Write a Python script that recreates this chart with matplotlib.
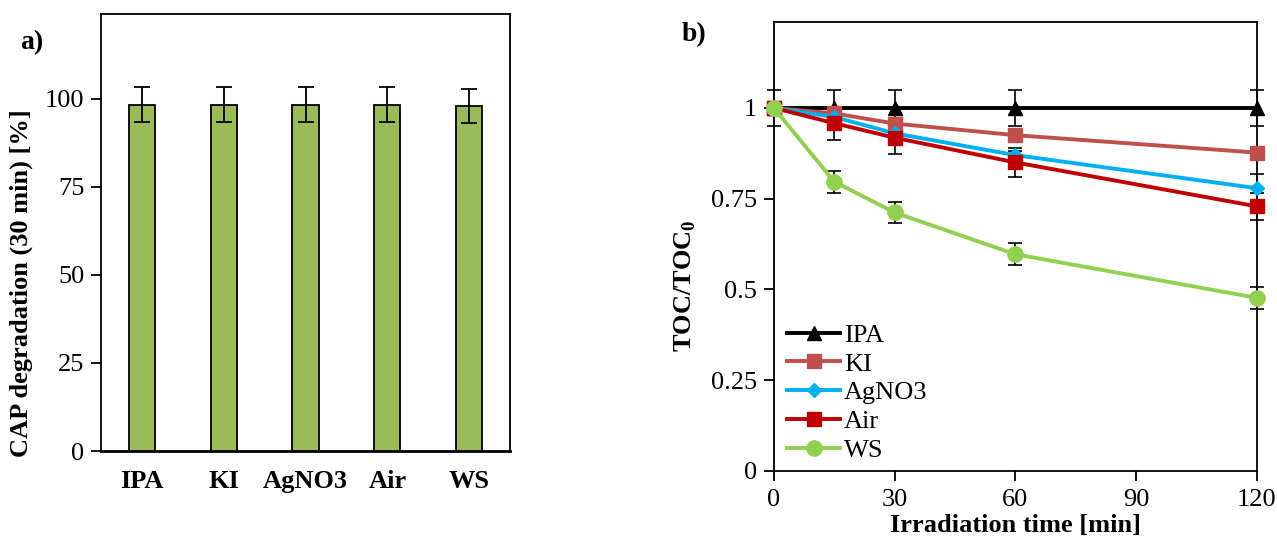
import matplotlib
matplotlib.use("Agg")
import matplotlib.pyplot as plt

plt.rcParams['font.family'] = ['Liberation Serif', 'DejaVu Serif']
plt.rcParams['mathtext.fontset'] = 'custom'
plt.rcParams['mathtext.rm'] = 'Liberation Serif'
plt.rcParams['mathtext.bf'] = 'Liberation Serif:bold'

# panel a data
scavengers = ['IPA', 'KI', 'AgNO3', 'Air', 'WS']
cap_degradation = [98.3, 98.3, 98.3, 98.3, 97.9]
cap_err = [5.0, 5.0, 5.0, 5.0, 4.9]

# panel b data
time_min = [0, 15, 30, 60, 120]
toc_ipa = [1.0, 1.0, 1.0, 1.0, 1.0]
toc_ki = [1.0, 0.985, 0.957, 0.925, 0.877]
toc_agno3 = [1.0, 0.975, 0.93, 0.87, 0.779]
toc_air = [1.0, 0.958, 0.918, 0.85, 0.729]
toc_ws = [1.0, 0.797, 0.712, 0.597, 0.477]
err_ipa = [0.05, 0.05, 0.05, 0.05, 0.05]
err_ki = [0.0, 0.01, 0.01, 0.01, 0.01]
err_agno3 = [0.0, 0.01, 0.01, 0.01, 0.04]
err_air = [0.0, 0.045, 0.045, 0.04, 0.037]
err_ws = [0.0, 0.03, 0.03, 0.03, 0.03]

FS = 19

fig = plt.figure(figsize=(12.77, 5.47), dpi=100)

# ---- a) ----
ax1 = fig.add_axes([0.079, 0.1755, 0.3205, 0.799])
x = range(len(scavengers))
ax1.bar(x, cap_degradation, width=0.32, color='#9BBB59', edgecolor='black', linewidth=1.3,
        yerr=cap_err, capsize=6, error_kw=dict(ecolor='black', elinewidth=1.3, capthick=1.3), zorder=2)
ax1.set_xlim(-0.5, 4.5)
ax1.set_ylim(0, 124)
ax1.set_yticks([0, 25, 50, 75, 100])
ax1.set_xticks(list(x))
ax1.set_xticklabels(scavengers, fontweight='bold', fontsize=FS)
ax1.tick_params(axis='x', length=0, pad=14)
ax1.tick_params(axis='y', direction='out', length=7, width=1.3, labelsize=FS, pad=5)
for s in ax1.spines.values():
    s.set_linewidth(1.3)
ax1.spines['bottom'].set_linewidth(2)
ax1.set_ylabel('CAP degradation (30 min) [%]', fontweight='bold', fontsize=FS, va='center')
ax1.yaxis.set_label_coords(-0.195, 0.384)
fig.text(0.016, 0.91, 'a)', fontweight='bold', fontsize=20)

# ---- b) ----
ax2 = fig.add_axes([0.606, 0.139, 0.378, 0.821])
series = [
    ('IPA', toc_ipa, err_ipa, 'black', '^', 10),
    ('KI', toc_ki, err_ki, '#C0504D', 's', 10),
    ('AgNO3', toc_agno3, err_agno3, '#00B0F0', 'D', 7.5),
    ('Air', toc_air, err_air, '#C00000', 's', 10),
    ('WS', toc_ws, err_ws, '#92D050', 'o', 11),
]
for name, vals, err, col, mk, ms in series:
    eb = ax2.errorbar(time_min, vals, yerr=err, fmt='none', ecolor='black', elinewidth=1.2,
                      capsize=5, capthick=1.2, zorder=1)
    for art in eb.lines[1] + eb.lines[2]:
        art.set_clip_on(False)
for name, vals, err, col, mk, ms in series:
    ax2.plot(time_min, vals, color=col, marker=mk, markersize=ms, linewidth=2.8,
             label=name, zorder=3, clip_on=False)
ax2.set_xlim(0, 120)
ax2.set_ylim(0, 1.237)
ax2.set_xticks([0, 30, 60, 90, 120])
ax2.set_yticks([0, 0.25, 0.5, 0.75, 1])
ax2.set_yticklabels(['0', '0.25', '0.5', '0.75', '1'])
ax2.tick_params(direction='out', length=7, width=1.3, labelsize=FS)
ax2.tick_params(axis='x', pad=6)
ax2.tick_params(axis='y', pad=5)
for s in ax2.spines.values():
    s.set_linewidth(1.3)
for a in (ax1, ax2):
    for s in a.spines.values():
        s.set_zorder(0)
ax2.set_xlabel('Irradiation time [min]', fontweight='bold', fontsize=FS, labelpad=2)
ax2.set_ylabel(r'TOC/TOC$_\mathbf{0}$', fontweight='bold', fontsize=FS, va='center')
ax2.yaxis.set_label_coords(-0.184, 0.412)
ax2.legend(loc='lower left', bbox_to_anchor=(-0.005, -0.015), frameon=False, fontsize=FS,
           handlelength=2.0, handletextpad=0.15, labelspacing=0.2, borderaxespad=0.2)
fig.text(0.534, 0.925, 'b)', fontweight='bold', fontsize=20)

fig.savefig('out.png', dpi=100)
